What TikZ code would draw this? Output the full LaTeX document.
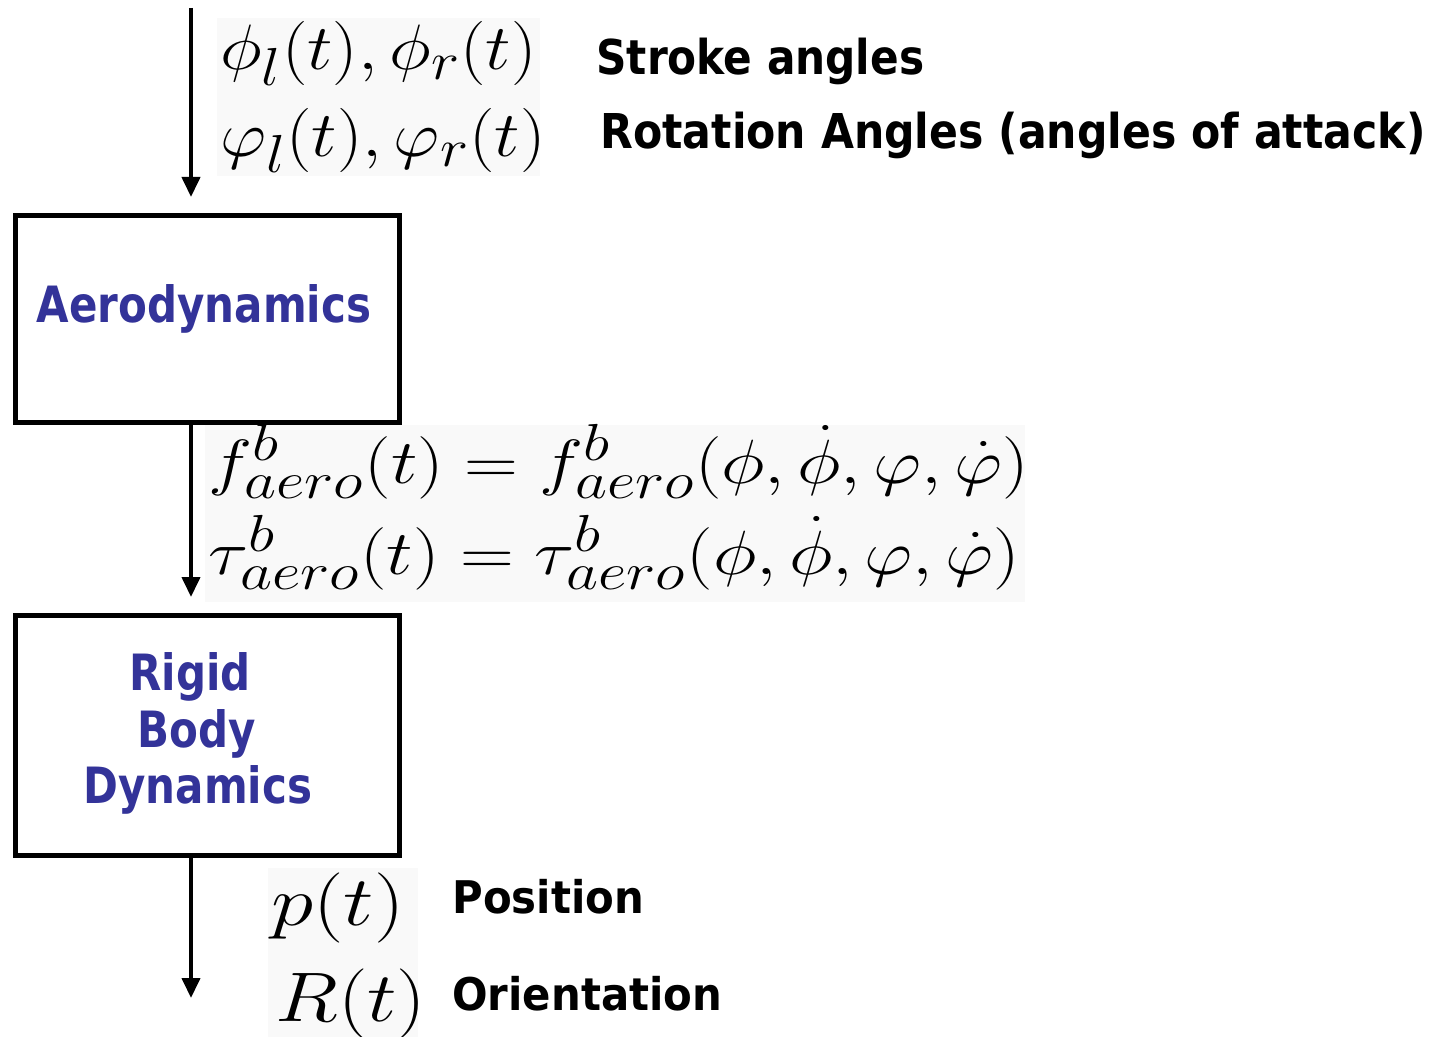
\documentclass[tikz,border=0pt]{standalone}
\usepackage{fontspec}
\usepackage{graphicx}
\usetikzlibrary{arrows.meta}
\newfontfamily\labfont{DejaVu Sans Bold}
\definecolor{boxblue}{HTML}{333399}
\definecolor{imgbg}{HTML}{F9F9F9}
\newcommand{\mathbig}{\fontsize{24.88}{30}\selectfont}
\tikzset{
  flow/.style={line width=2pt,-{Triangle[length=10pt,width=9pt]}},
  blk/.style={draw,line width=2.5pt,inner sep=0pt},
  blktext/.style={text=boxblue,inner sep=0pt,font=\labfont\fontsize{25}{28.5}\selectfont},
  lbl/.style={inner sep=0pt,anchor=base west,font=\labfont\fontsize{24}{28}\selectfont},
  mth/.style={inner sep=0pt,anchor=base west,font=\mathbig}
}
\begin{document}
\begin{tikzpicture}[x=0.5pt,y=-0.5pt]
\useasboundingbox[fill=white] (0,0) rectangle (1439,1037);
% faint image backgrounds
\fill[imgbg] (217,18) rectangle (540,176);
\fill[imgbg] (205,425) rectangle (1025,602);
\fill[imgbg] (268,868) rectangle (418,1037);
% boxes
\node[blk,minimum width=192pt,minimum height=103.5pt] (aero) at (207.5,319) {};
\node[blk,minimum width=192pt,minimum height=120pt] (rigid) at (207.5,735.5) {};
\node[blktext,anchor=base] (aerotext) at (204,323) {\scalebox{0.84}[1]{Aerodynamics}};
\node[blktext,anchor=base] (rigidtext1) at (190,690) {\scalebox{0.84}[1]{Rigid}};
\node[blktext,anchor=base] (rigidtext2) at (197,747) {\scalebox{0.84}[1]{Body}};
\node[blktext,anchor=base] (rigidtext3) at (198,803) {\scalebox{0.84}[1]{Dynamics}};
% arrows
\coordinate (top) at (191,8);
\coordinate (bottom) at (191,998);
\draw[flow,shorten >=8pt] (top) -- (aero.north -| top);
\draw[flow,shorten >=8pt] (aero.south -| top) -- (rigid.north -| top);
\draw[flow] (rigid.south -| top) -- (bottom);
% input labels
\node[mth] (phi) at (220,70) {\scalebox{1.44}[1.29]{$\phi_l(t),\phi_r(t)$}};
\node[mth] (vphi) at (220,157) {\scalebox{1.44}[1.29]{$\varphi_l(t),\varphi_r(t)$}};
\node[lbl] (stroke) at (596,75) {\scalebox{0.88}[1]{Stroke angles}};
\node[lbl] (rot) at (600,149) {\scalebox{0.888}[1]{Rotation Angles (angles of attack)}};
% forces
\node[mth] (feq) at (208,483) {\scalebox{1.5}[1.256]{$f^b_{aero}(t)=f^b_{aero}(\phi,\dot\phi,\varphi,\dot\varphi)$}};
\node[mth] (teq) at (208,574) {\scalebox{1.5}[1.256]{$\tau^b_{aero}(t)=\tau^b_{aero}(\phi,\dot\phi,\varphi,\dot\varphi)$}};
% outputs
\node[mth] (pt) at (271,925) {\scalebox{1.72}[1.41]{$p(t)$}};
\node[mth] (Rt) at (275,1021) {\scalebox{1.67}[1.41]{$R(t)$}};
\node[lbl,font=\labfont\fontsize{22.5}{26}\selectfont] (pos) at (452,913) {\scalebox{0.93}[1]{Position}};
\node[lbl,font=\labfont\fontsize{22.5}{26}\selectfont] (ori) at (452,1010) {\scalebox{0.93}[1]{Orientation}};
\end{tikzpicture}
\end{document}
